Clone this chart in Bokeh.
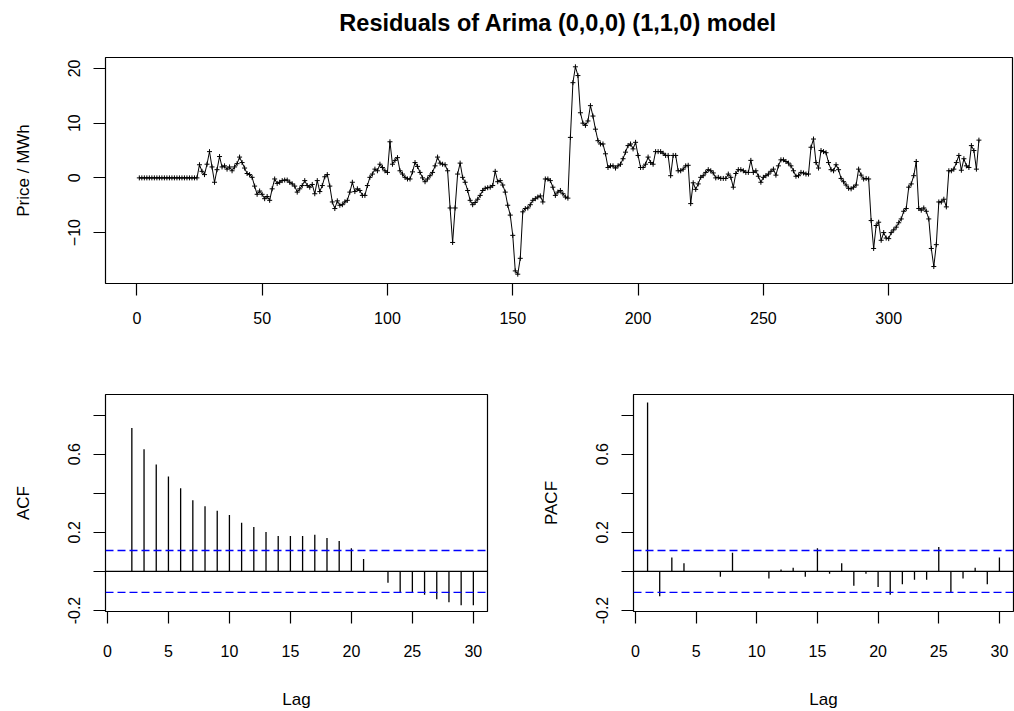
from bokeh.plotting import figure
from bokeh.layouts import column, row
from bokeh.models import FixedTicker, Range1d, Span, ColumnDataSource
from bokeh.core.properties import value
from bokeh.embed import file_html
from bokeh.resources import INLINE

# ---------------- data ----------------
resid = [
    0, 0, 0, 0, 0, 0, 0, 0, 0, 0,
    0, 0, 0, 0, 0, 0, 0, 0, 0, 0,
    0, 0, 0, 0, 2.4, 1.2, 0.6, 2.5, 4.8, 2.0,
    -0.8, 1.5, 3.9, 2.0, 2.2, 1.6, 2.0, 1.3, 2.0, 2.6,
    3.8, 2.8, 1.8, 0.8, 0.6, 0.1, -1.5, -3.0, -2.4, -3.0,
    -3.8, -3.4, -4.1, -2.0, -0.2, -1.0, -0.8, -0.5, -0.4, -0.4,
    -0.8, -1.1, -1.5, -2.6, -2.0, -1.4, -0.5, -1.4, -1.7, -1.2,
    -2.9, -0.5, -2.5, -1.4, 0.2, 0.6, -1.5, -4.4, -5.6, -4.2,
    -5.0, -4.9, -4.4, -4.1, -2.6, -0.8, -2.5, -2.0, -2.3, -3.2,
    -3.2, -1.4, 0.1, 0.7, 1.6, 1.3, 2.5, 1.9, 1.3, 1.0,
    6.6, 2.5, 3.2, 3.7, 1.3, 0.7, 0.1, -0.2, -0.2, 1.1,
    2.8, 2.1, 1.0, 0.0, -0.7, -0.2, 0.4, 1.0, 2.2, 3.8,
    2.7, 2.5, 2.4, 1.3, -5.5, -11.8, -5.5, 0.7, 2.7, 0.1,
    -0.8, -2.3, -4.1, -4.9, -4.5, -3.9, -3.2, -2.3, -1.9, -1.8,
    -1.7, -1.4, 1.2, -0.7, -0.5, -1.3, -2.6, -5.0, -6.8, -10.5,
    -17.0, -17.6, -14.7, -6.2, -5.6, -5.5, -4.9, -4.1, -3.8, -3.5,
    -3.3, -4.4, -0.2, -0.2, -0.5, -1.7, -3.2, -2.6, -2.3, -2.9,
    -3.5, -3.7, 7.4, 17.4, 20.3, 18.7, 11.9, 10.0, 9.6, 10.4,
    13.2, 11.3, 8.9, 6.8, 6.2, 6.2, 4.4, 1.9, 2.2, 2.2,
    1.8, 2.2, 2.5, 3.5, 4.7, 5.9, 6.2, 5.3, 6.5, 4.1,
    1.9, 1.9, 2.5, 3.8, 2.8, 2.5, 4.8, 4.8, 4.8, 4.5,
    4.1, 4.1, 0.4, 4.1, 4.1, 1.3, 1.3, 1.6, 2.2, 2.3,
    -4.7, -0.9, -2.1, -1.1, 0.1, 0.4, 1.0, 1.5, 1.3, 0.9,
    0.0, 0.1, -0.1, -0.1, -0.1, 0.7, 0.1, -1.7, 0.8, 1.5,
    1.5, 1.3, 1.0, 1.0, 3.2, 1.0, 1.3, 0.3, -0.8, 0.1,
    0.4, 0.7, 1.2, 1.6, 0.5, 2.2, 3.3, 3.3, 3.0, 2.7,
    2.2, 1.3, 0.3, 0.4, 1.0, 0.9, 0.7, 0.7, 5.6, 7.1,
    2.8, 1.8, 5.0, 4.8, 4.6, 2.8, 1.5, 1.3, 2.4, 1.5,
    -0.1, -0.7, -1.3, -1.9, -2.0, -1.7, -1.3, 1.6, 0.5, -0.2,
    -0.1, -0.2, -7.8, -12.9, -8.7, -8.1, -11.4, -10.0, -11.0, -11.1,
    -10.0, -9.5, -9.0, -8.2, -7.5, -6.1, -5.6, -1.7, -1.1, 0.4,
    3.0, -5.6, -5.9, -5.5, -6.1, -7.5, -12.9, -16.2, -12.2, -4.4,
    -4.4, -3.9, -5.3, 1.3, 1.3, 1.6, 2.8, 4.1, 1.4, 3.5,
    2.2, 1.9, 5.9, 5.0, 1.6, 6.9,
]
time_index = list(range(1, len(resid) + 1))

acf_lags = list(range(2, 31))
acf_vals = [0.734, 0.625, 0.547, 0.486, 0.425, 0.364, 0.334, 0.310, 0.288,
            0.249, 0.227, 0.202, 0.181, 0.181, 0.181, 0.188, 0.171, 0.156,
            0.119, 0.064, 0.0, -0.058, -0.105, -0.105, -0.119, -0.142,
            -0.158, -0.173, -0.173]

pacf_lags = list(range(1, 31))
pacf_vals = [0.864, -0.127, 0.071, 0.042, 0.0, 0.0, -0.027, 0.095, 0.0, 0.0,
             -0.036, 0.010, 0.019, -0.027, 0.119, -0.012, 0.042, -0.073,
             -0.012, -0.080, -0.119, -0.066, -0.042, -0.042, 0.125, -0.105,
             -0.036, 0.019, -0.066, 0.071]

conf_bound = 0.107

title_text = "Residuals of Arima (0,0,0) (1,1,0) model"
ts_ticks = [0, 50, 100, 150, 200, 250, 300]
ts_yticks = [-10, 0, 10, 20]
lag_ticks = [0, 5, 10, 15, 20, 25, 30]
cf_yticks = [-0.2, 0.0, 0.2, 0.4, 0.6, 0.8]
cf_ylabels = {-0.2: "-0.2", 0.0: "", 0.2: "0.2", 0.4: "", 0.6: "0.6", 0.8: ""}

FONT = "Liberation Sans"


def style(p):
    p.xgrid.visible = False
    p.ygrid.visible = False
    p.background_fill_color = "white"
    p.border_fill_color = "white"
    p.outline_line_color = "black"
    p.outline_line_width = 1.2
    p.outline_line_alpha = 1.0
    for ax in p.axis:
        ax.axis_line_color = None
        ax.major_tick_out = 12
        ax.major_tick_in = 0
        ax.minor_tick_out = 0
        ax.minor_tick_in = 0
        ax.major_tick_line_color = "black"
        ax.major_tick_line_width = 1.2
        ax.major_label_text_font = FONT
        ax.major_label_text_font_size = "16px"
        ax.major_label_text_color = "black"
        ax.axis_label_text_font = FONT
        ax.axis_label_text_font_size = "17px"
        ax.axis_label_text_font_style = "normal"
        ax.axis_label_text_color = "black"
    p.xaxis.major_label_standoff = 21
    p.xaxis.axis_label_standoff = 30
    p.yaxis.major_label_standoff = 13
    p.yaxis.axis_label_standoff = 33
    p.yaxis.major_label_orientation = "vertical"


# ---------------- title strip ----------------
TITLE_H = 40
tfig = figure(width=1014, height=TITLE_H, output_backend="svg",
              toolbar_location=None, x_axis_location=None,
              y_axis_location=None, x_range=Range1d(0, 1014),
              y_range=Range1d(0, TITLE_H), min_border=0,
              min_border_left=0, min_border_right=0, min_border_top=0,
              min_border_bottom=0)
tfig.outline_line_color = None
tfig.xgrid.visible = False
tfig.ygrid.visible = False
tsrc = ColumnDataSource(dict(x=[506], y=[TITLE_H - 22], t=[title_text]))
tfig.text(x="x", y="y", text="t", source=tsrc, text_align="center",
          text_baseline="middle", text_font=value(FONT),
          text_font_size="23.5px", text_font_style="bold", text_color="black")

# ---------------- top: residual series ----------------
p = figure(width=1014, height=345 - TITLE_H, output_backend="svg",
           toolbar_location=None,
           x_range=Range1d(-12.5, 349.4), y_range=Range1d(-19.3, 22.0),
           min_border_left=105, min_border_right=2,
           min_border_top=57 - TITLE_H, min_border_bottom=62)
p.line(time_index, resid, line_color="black", line_width=1)
p.scatter(time_index, resid, marker="cross", size=5, line_color="black",
          line_width=1)
p.yaxis.axis_label = "Price / MWh"
style(p)
p.xaxis.ticker = FixedTicker(ticks=ts_ticks)
p.yaxis.ticker = FixedTicker(ticks=ts_yticks)
p.xaxis.major_label_standoff = 16


def cf_plot(lags, vals, ylabel, left, right):
    f = figure(width=507, height=366, output_backend="svg",
               toolbar_location=None,
               x_range=Range1d(-0.16, 31.16), y_range=Range1d(-0.205, 0.905),
               min_border_left=left, min_border_right=right,
               min_border_top=49, min_border_bottom=99)
    f.segment(x0=lags, y0=[0] * len(lags), x1=lags, y1=vals,
              line_color="black", line_width=1.3)
    f.add_layout(Span(location=0, dimension="width", line_color="black",
                      line_width=1.2))
    for b in (conf_bound, -conf_bound):
        f.add_layout(Span(location=b, dimension="width", line_color="blue",
                          line_width=1.4, line_dash="8 4"))
    f.xaxis.axis_label = "Lag"
    f.yaxis.axis_label = ylabel
    style(f)
    f.xaxis.ticker = FixedTicker(ticks=lag_ticks)
    f.yaxis.ticker = FixedTicker(ticks=cf_yticks)
    f.yaxis.major_label_overrides = cf_ylabels
    return f


acf = cf_plot(acf_lags, acf_vals, "ACF", 105, 20)
pacf = cf_plot(pacf_lags, pacf_vals, "PACF", 126, 1)

layout = column(tfig, p, row(acf, pacf))
open("out.html", "w").write(file_html(layout, INLINE))
